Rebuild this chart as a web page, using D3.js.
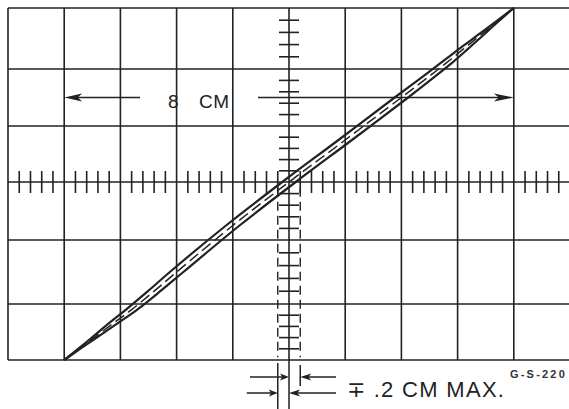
<!DOCTYPE html>
<html><head><meta charset="utf-8">
<script src="https://cdn.jsdelivr.net/npm/d3@7"></script>
<style>html,body{margin:0;padding:0;background:#fff;overflow:hidden}</style>
</head><body>
<svg id="c" width="569" height="409"></svg>
<script>
// graticule divisions (cm)
const gridCols = [-5,-4,-3,-2,-1,0,1,2,3,4,5];
const gridRows = [-3,-2,-1,0,1,2,3];
const minorStep = 0.2;
// trace: horizontal position along the diagonal (cm) and loop half-width (cm)
const traceU = [-4, -3.7, -3.4, -3.1, -2.8, -2.4, -2, -1, 0, 1, 2, 2.4, 2.8, 3.1, 3.4, 3.7, 4];
const traceHalfWidth = [0, 0.02, 0.05, 0.08, 0.1, 0.11, 0.12, 0.12, 0.12, 0.12, 0.12, 0.11, 0.1, 0.08, 0.05, 0.02, 0];
const traceSlope = [0.75];
// annotations
const spanCm = [-4, 4];
const spanRowCm = [1.5];
const spanLabelParts = ["8 ", "CM"];
const tolCm = [-0.2, 0, 0.2];
const tolLabel = "∓ .2 CM MAX.";
const figureId = "G-S-220";

const svg = d3.select("#c");
const ink = "#222";
const font = "Liberation Sans, Arial, sans-serif";
const x = d3.scaleLinear().domain([-5, 5]).range([8, 570]);
const y = d3.scaleLinear().domain(gridRows).range([360, 304, 240, 182, 126, 69, 8]);

// grid
svg.append("g").selectAll("line").data(gridCols).join("line")
  .attr("x1", d => x(d)).attr("x2", d => x(d))
  .attr("y1", y(3)).attr("y2", y(-3))
  .attr("stroke", ink).attr("stroke-width", 1.6);
svg.append("g").selectAll("line").data(gridRows).join("line")
  .attr("x1", x(-5)).attr("x2", x(5))
  .attr("y1", d => y(d)).attr("y2", d => y(d))
  .attr("stroke", ink).attr("stroke-width", 1.6);

// minor ticks on the centre axes
const notInt = v => Math.abs(v - Math.round(v)) > 1e-6;
const xMinor = d3.range(-5, 5.0001, minorStep).filter(notInt);
const yMinor = d3.range(-3, 3.0001, minorStep).filter(notInt);
svg.append("g").selectAll("line").data(xMinor).join("line")
  .attr("x1", d => x(d)).attr("x2", d => x(d))
  .attr("y1", y(0) - 11).attr("y2", y(0) + 11)
  .attr("stroke", ink).attr("stroke-width", 1.6);
svg.append("g").selectAll("line").data(yMinor).join("line")
  .attr("x1", x(0) - 10).attr("x2", x(0) + 10)
  .attr("y1", d => y(d)).attr("y2", d => y(d))
  .attr("stroke", ink).attr("stroke-width", 1.6);

// tolerance dashed verticals
svg.append("g").selectAll("line").data([tolCm[0], tolCm[2]]).join("line")
  .attr("x1", d => x(d)).attr("x2", d => x(d))
  .attr("y1", y(-0.1)).attr("y2", y(-2.95))
  .attr("stroke", ink).attr("stroke-width", 1.4)
  .attr("stroke-dasharray", "9,5");

// trace loop
const line = d3.line().x(d => x(d[0])).y(d => y(d[1])).curve(d3.curveCatmullRom);
const upper = traceU.map((u, i) => [u - traceHalfWidth[i], traceSlope[0] * u]);
const lower = traceU.map((u, i) => [u + traceHalfWidth[i], traceSlope[0] * u]);
const mid = traceU.map(u => [u, traceSlope[0] * u]);
svg.append("path").attr("d", line(upper)).attr("fill", "none").attr("stroke", ink).attr("stroke-width", 2.2);
svg.append("path").attr("d", line(lower)).attr("fill", "none").attr("stroke", ink).attr("stroke-width", 2.2);
svg.append("path").attr("d", line(mid)).attr("fill", "none").attr("stroke", ink).attr("stroke-width", 1.5)
  .attr("stroke-dasharray", "11,5");

// arrow helper
function arrow(xFrom, yy, xTip, len, half) {
  const dir = xTip > xFrom ? 1 : -1;
  svg.append("line").attr("x1", xFrom).attr("x2", xTip - dir * len * 0.5)
    .attr("y1", yy).attr("y2", yy).attr("stroke", ink).attr("stroke-width", 1.5);
  svg.append("path")
    .attr("d", `M${xTip},${yy} L${xTip - dir * len},${yy - half} L${xTip - dir * len * 0.75},${yy} L${xTip - dir * len},${yy + half} Z`)
    .attr("fill", ink);
}

// 8 CM span
const sy = y(spanRowCm[0]);
arrow(140, sy, x(spanCm[0]), 18, 4);
arrow(258, sy, x(spanCm[1]), 20, 4);
const spanText = svg.append("text").attr("y", sy + 10.5)
  .attr("font-family", font).attr("font-size", 19).attr("fill", ink);
spanText.append("tspan").attr("x", 168).text(spanLabelParts[0]);
spanText.append("tspan").attr("x", 199).attr("letter-spacing", 0.5).text(spanLabelParts[1]);

// tolerance markers below the graticule
const yb = y(-3);
svg.append("line").attr("x1", x(tolCm[0])).attr("x2", x(tolCm[0])).attr("y1", yb + 3).attr("y2", 409)
  .attr("stroke", ink).attr("stroke-width", 1.5);
svg.append("line").attr("x1", x(tolCm[1])).attr("x2", x(tolCm[1])).attr("y1", yb).attr("y2", 409)
  .attr("stroke", ink).attr("stroke-width", 1.5);
svg.append("line").attr("x1", x(tolCm[2])).attr("x2", x(tolCm[2])).attr("y1", yb + 5).attr("y2", yb + 26)
  .attr("stroke", ink).attr("stroke-width", 1.5);
arrow(x(tolCm[1]) - 39, yb + 17, x(tolCm[1]), 9, 3.5);
arrow(336, yb + 17, x(tolCm[2]), 11, 3.5);
arrow(x(tolCm[0]) - 31, yb + 33, x(tolCm[0]), 9, 3.5);
arrow(336, yb + 33, x(tolCm[1]), 11, 3.5);
svg.append("text").attr("x", 347).attr("y", yb + 37)
  .attr("font-family", font).attr("font-size", 22).attr("letter-spacing", 1.3)
  .attr("fill", ink).text(tolLabel);

svg.append("text").attr("x", 510).attr("y", yb + 18)
  .attr("font-family", font).attr("font-size", 11)
  .attr("font-weight", "bold").attr("letter-spacing", 2.2)
  .attr("fill", "#333").text(figureId);
</script>
</body></html>
